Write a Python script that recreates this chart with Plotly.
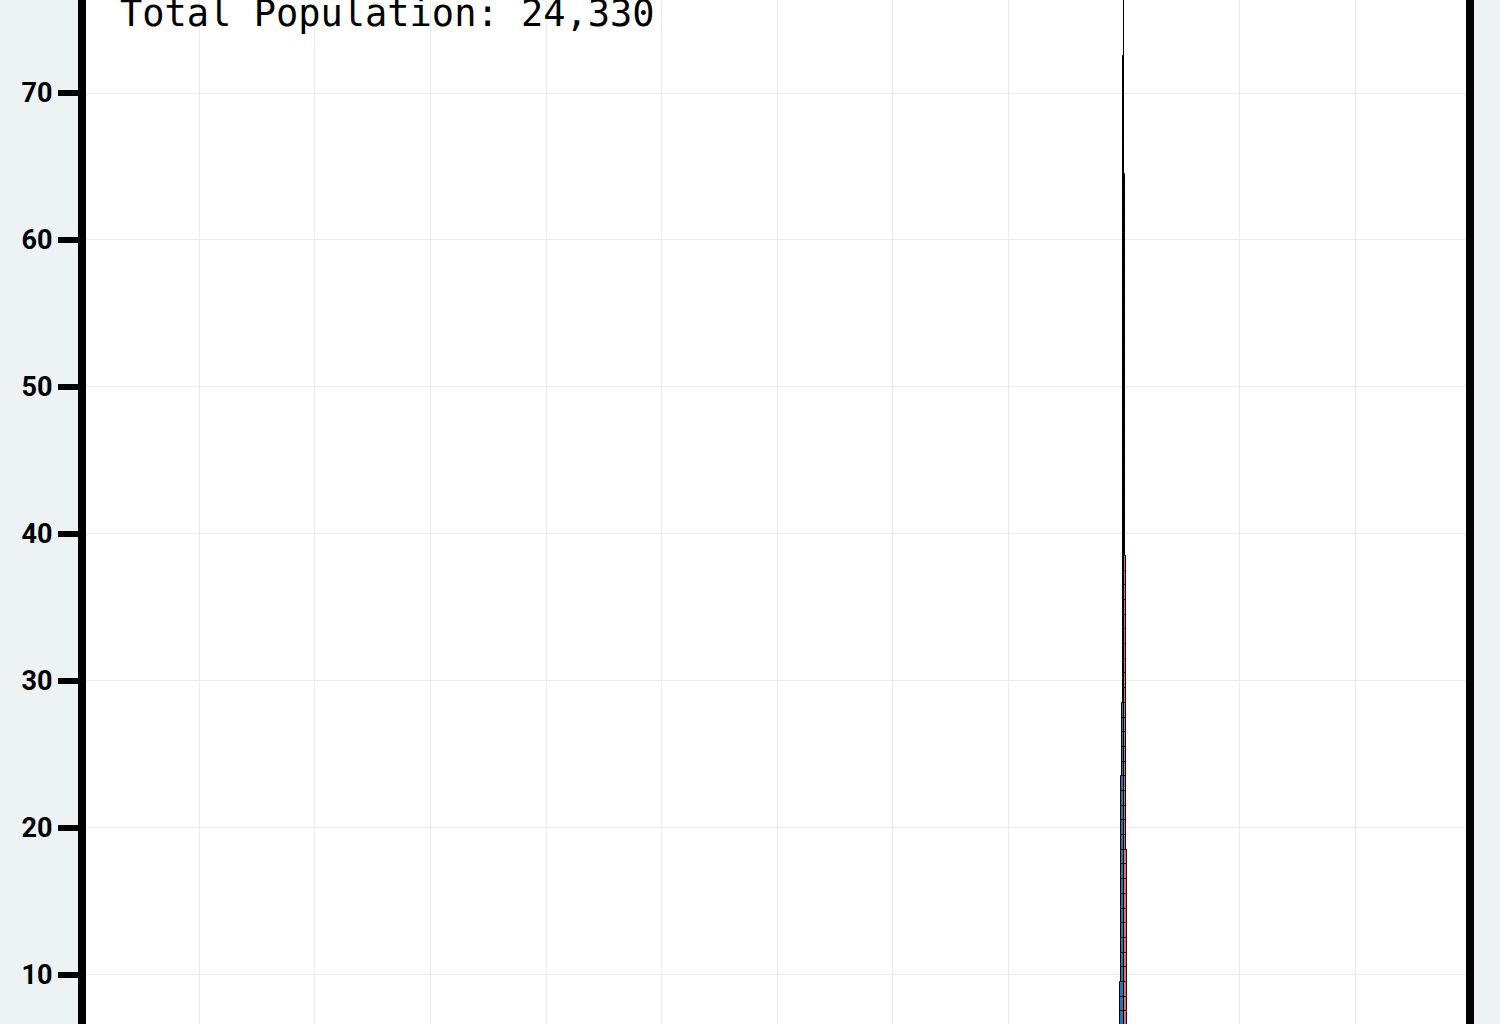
import plotly.graph_objects as go

# population pyramid: single years of age, counts per sex
ages = list(range(0, 81))

male = [
    335, 330, 338, 326, 332, 318, 312, 305, 300, 296,
    282, 275, 270, 266, 262, 258, 250, 244, 240, 236,
    232, 224, 218, 212, 206, 200, 192, 186, 176, 120,
    116, 113, 110, 108, 106, 104, 102, 100, 98, 96,
    94, 92, 90, 89, 88, 87, 86, 85, 84, 83,
    82, 81, 80, 79, 78, 76, 74, 72, 70, 67,
    64, 61, 58, 55, 52, 50, 48, 46, 44, 42,
    40, 38, 36, 34, 32, 30, 28, 26, 24, 22,
    20,
]

female = [
    318, 322, 315, 310, 316, 304, 298, 290, 286, 280,
    276, 270, 262, 256, 248, 242, 236, 230, 226, 220,
    214, 208, 204, 198, 192, 186, 182, 180, 178, 176,
    174, 172, 170, 168, 166, 164, 162, 160, 158, 118,
    115, 112, 109, 106, 103, 100, 97, 95, 93, 91,
    89, 87, 85, 83, 81, 78, 75, 73, 71, 68,
    65, 62, 59, 56, 53, 51, 49, 47, 45, 43,
    41, 39, 37, 35, 33, 31, 29, 27, 25, 23,
    21,
]

total_label = "Total Population: 24,330"

fig = go.Figure()

fig.add_trace(go.Bar(
    y=ages,
    x=[-v for v in male],
    orientation="h",
    name="Male",
    marker=dict(color="#1f78b4", line=dict(color="black", width=1)),
))

fig.add_trace(go.Bar(
    y=ages,
    x=female,
    orientation="h",
    name="Female",
    marker=dict(color="#f4655f", line=dict(color="black", width=1)),
))

fig.update_layout(
    width=1500,
    height=1209,
    barmode="relative",
    bargap=0,
    showlegend=False,
    paper_bgcolor="#edf2f5",
    plot_bgcolor="white",
    margin=dict(l=86, r=34, t=0, b=80),
    xaxis=dict(
        range=[-89800, 29600],
        dtick=10000,
        showgrid=True,
        gridcolor="#ebebeb",
        gridwidth=1,
        zeroline=False,
        showticklabels=False,
    ),
    yaxis=dict(
        range=[-0.5, 76.33],
        dtick=10,
        showgrid=True,
        gridcolor="#ebebeb",
        gridwidth=1,
        zeroline=False,
        showline=True,
        linecolor="black",
        linewidth=8,
        mirror=True,
        ticks="outside",
        ticklen=20,
        tickwidth=6,
        tickcolor="black",
        tickfont=dict(family="Roboto", size=27, color="black", weight="bold"),
    ),
    annotations=[
        dict(
            text=total_label,
            xref="paper", yref="paper",
            x=0, y=1,
            xanchor="left", yanchor="middle",
            xshift=32, yshift=-13,
            showarrow=False,
            font=dict(family="DejaVu Sans Mono", size=37, color="black"),
        )
    ],
)

fig.write_html(
    "out.html",
    config={"displayModeBar": False},
    post_script="document.body.style.margin = '0';",
)
